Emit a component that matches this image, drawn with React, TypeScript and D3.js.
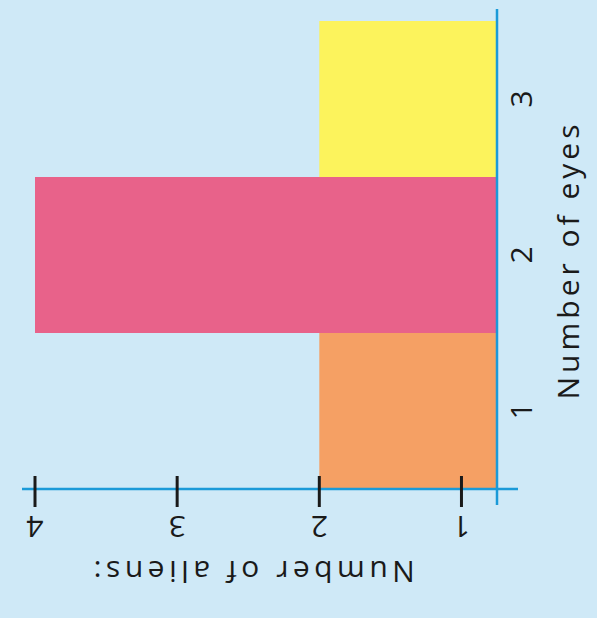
import React from "react";
import * as d3 from "d3";

const categories = ["1", "2", "3"];
const aliens = [2, 4, 2];
const barColors = ["#f5a064", "#e8628a", "#fcf35c"];
const valueTicks = [1, 2, 3, 4];
const valueTitle = "Number of aliens:";
const categoryTitle = "Number of eyes";

const W = 597;
const H = 618;

export default function App() {
  const axisX = 497;
  const axisY = 489;
  const font = "'Open Sans', 'DejaVu Sans', sans-serif";
  // value scale runs right-to-left; axis line sits at 0.75
  const x = d3.scaleLinear().domain([0.75, 4]).range([axisX, 35]);
  // category scale runs bottom-to-top
  const y = d3.scaleBand().domain(categories).range([axisY, 21]).padding(0);

  return (
    <svg
      width={W}
      height={H}
      style={{ position: "fixed", left: 0, top: 0, display: "block" }}
    >
      <rect x={0} y={0} width={W} height={H} fill="#cfe9f7" />
      {categories.map((c, i) => (
        <rect
          key={c}
          x={x(aliens[i])}
          y={y(c)!}
          width={axisX - x(aliens[i])}
          height={y.bandwidth()}
          fill={barColors[i]}
        />
      ))}
      {/* axes */}
      <line x1={22} x2={518} y1={axisY} y2={axisY} stroke="#1b9ad8" strokeWidth={2.5} />
      <line x1={axisX} x2={axisX} y1={9} y2={505} stroke="#1b9ad8" strokeWidth={2.5} />
      {/* value ticks */}
      {valueTicks.map((t) => (
        <g key={t}>
          <line x1={x(t)} x2={x(t)} y1={476} y2={507} stroke="#1a1a1a" strokeWidth={3} />
          <text
            transform={`translate(${x(t)},${527}) rotate(180)`}
            textAnchor="middle"
            dominantBaseline="central"
            fontFamily={font}
            fontSize={30}
            fill="#1a1a1a"
          >
            {t}
          </text>
        </g>
      ))}
      <text
        transform={`translate(252,572) rotate(180)`}
        textAnchor="middle"
        dominantBaseline="central"
        fontFamily={font}
        fontSize={30}
        letterSpacing={4.5}
        fill="#1a1a1a"
      >
        {valueTitle}
      </text>
      {/* category labels */}
      {categories.map((c) => (
        <text
          key={c}
          transform={`translate(520,${y(c)! + y.bandwidth() / 2}) rotate(-90)`}
          textAnchor="middle"
          dominantBaseline="central"
          fontFamily={font}
          fontSize={30}
          fill="#1a1a1a"
        >
          {c}
        </text>
      ))}
      <text
        transform={`translate(567,260) rotate(-90)`}
        textAnchor="middle"
        dominantBaseline="central"
        fontFamily={font}
        fontSize={30}
        letterSpacing={4}
        fill="#1a1a1a"
      >
        {categoryTitle}
      </text>
    </svg>
  );
}
